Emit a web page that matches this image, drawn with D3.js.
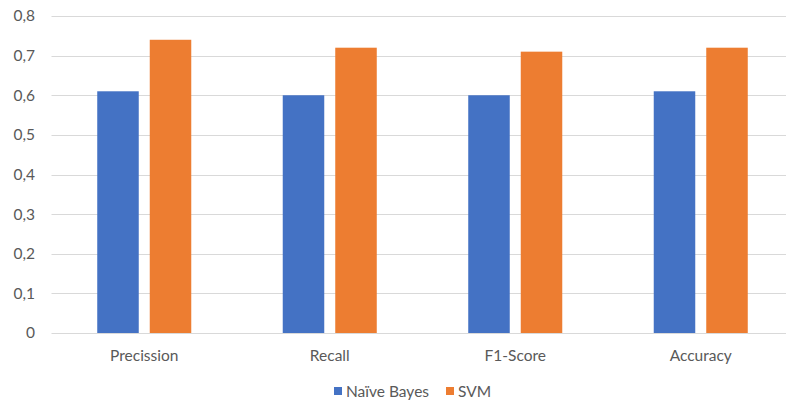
<!DOCTYPE html>
<html>
<head>
<meta charset="utf-8">
<script src="https://cdn.jsdelivr.net/npm/d3@7"></script>
<style>
  body { margin: 0; background: #fff; }
  svg { display: block; font-family: Lato, "Open Sans", sans-serif; }
</style>
</head>
<body>
<svg id="chart" width="786" height="400"></svg>
<script>
const categories = ["Precission", "Recall", "F1-Score", "Accuracy"];
const series = ["Naïve Bayes", "SVM"];
const naiveBayes = [0.61, 0.60, 0.60, 0.61];
const svmValues = [0.74, 0.72, 0.71, 0.72];
const yTicks = [0, 0.1, 0.2, 0.3, 0.4, 0.5, 0.6, 0.7, 0.8];
const yTickLabels = ["0", "0,1", "0,2", "0,3", "0,4", "0,5", "0,6", "0,7", "0,8"];
const colors = ["#4472C4", "#ED7D31"];

(function () {
const data = categories.map((c, i) => ({ cat: c, values: [naiveBayes[i], svmValues[i]] }));

const svg = d3.select("#chart");
const pLeft = 51.5, pRight = 793.5, pTop = 16, pBottom = 333;
const fontSize = "15.5px";

const x = d3.scaleBand().domain(categories).range([pLeft, pRight]).paddingInner(0).paddingOuter(0);
const x1 = d3.scaleBand().domain(series).range([0, x.bandwidth()]).paddingInner(0.2095).paddingOuter(0.871);
const y = d3.scaleLinear().domain([0, 0.8]).range([pBottom, pTop]);

// gridlines
svg.append("g").selectAll("line").data(yTicks).join("line")
  .attr("x1", pLeft).attr("x2", 786)
  .attr("y1", d => Math.round(y(d)) + 0.5).attr("y2", d => Math.round(y(d)) + 0.5)
  .attr("stroke", "#D9D9D9").attr("stroke-width", 1.2);

// y labels
const yAxis = d3.axisLeft(y).tickValues(yTicks).tickFormat((d, i) => yTickLabels[i]).tickSize(0).tickPadding(0);
const ya = svg.append("g").attr("transform", "translate(35,0)").call(yAxis);
ya.select(".domain").remove();
ya.selectAll("text").attr("fill", "#595959").style("font-size", fontSize).style("font-family", "Lato, 'Open Sans', sans-serif");

// bars
const groups = svg.append("g").selectAll("g").data(data).join("g")
  .attr("transform", d => `translate(${x(d.cat)},0)`);
groups.selectAll("rect").data(d => d.values.map((v, i) => ({ s: series[i], v, i }))).join("rect")
  .attr("x", d => x1(d.s)).attr("width", x1.bandwidth())
  .attr("y", d => y(d.v)).attr("height", d => y(0) - y(d.v))
  .attr("fill", d => colors[d.i]);

// x labels
const xAxis = d3.axisBottom(x).tickSize(0).tickPadding(0);
const xa = svg.append("g").attr("transform", "translate(0,349.5)").call(xAxis);
xa.select(".domain").remove();
xa.selectAll("text").attr("fill", "#595959").style("font-size", fontSize).style("font-family", "Lato, 'Open Sans', sans-serif");

// legend
const legend = svg.append("g");
const legendItems = [{ name: series[0], x: 334 }, { name: series[1], x: 446 }];
legendItems.forEach((it, i) => {
  legend.append("rect").attr("x", it.x).attr("y", 387).attr("width", 8).attr("height", 8).attr("fill", colors[i]);
  legend.append("text").attr("x", it.x + 12).attr("y", 397).text(it.name)
    .attr("fill", "#595959").style("font-size", fontSize);
});
})();
</script>
</body>
</html>
